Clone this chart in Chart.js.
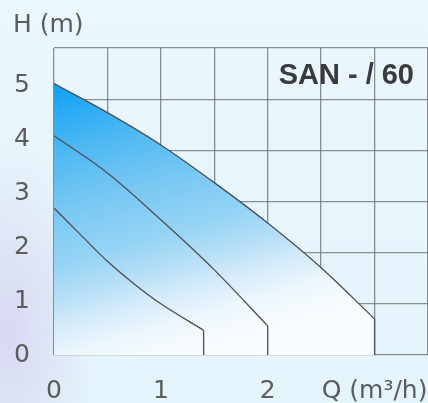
<!DOCTYPE html>
<html><head><meta charset="utf-8">
<script src="https://cdn.jsdelivr.net/npm/chart.js@4"></script>
<style>
html,body{margin:0;padding:0;}
body{width:428px;height:403px;overflow:hidden;background:
 radial-gradient(ellipse 90px 190px at 8px 330px, rgba(214,212,238,0.85), rgba(214,212,238,0) 100%),
 linear-gradient(180deg,#eaf7fc 0%, #e4f4fb 100%);}
canvas{display:block;}
</style></head><body>
<canvas id="c" width="428" height="403"></canvas>
<script>
const flowCurve1 = [0, 0.5, 1, 1.5, 2, 2.5, 3];
const headCurve1 = [5.04, 4.50, 3.90, 3.20, 2.45, 1.62, 0.67];
const flowCurve2 = [0, 0.5, 1, 1.5, 2];
const headCurve2 = [4.07, 3.38, 2.51, 1.58, 0.54];
const flowCurve3 = [0, 0.25, 0.5, 0.75, 1, 1.4];
const headCurve3 = [2.73, 2.23, 1.74, 1.32, 0.95, 0.46];
const xGridValues = [0, 0.5, 1, 1.5, 2, 2.5, 3, 3.5];
const xTickValues = [0, 1, 2, 3];
const xTickLabels = ['0', '1', '2', 'Q (m³/h)'];
const yTickValues = [0, 1, 2, 3, 4, 5];
const yTickLabels = ['0', '1', '2', '3', '4', '5'];
const yGridValues = [0, 1, 2, 3, 4, 5, 6];
const yAxisTitle = 'H (m)';
const modelLabel = 'SAN - / 60';

const toPoints = (qs, hs) => qs.map((q, i) => ({x: q, y: hs[i]}));
const dropLine = (qs, hs) => [{x: qs[qs.length - 1], y: hs[hs.length - 1]}, {x: qs[qs.length - 1], y: 0}];

const lineColor = '#4e4e52';
const gridColor = 'rgba(105,105,115,0.75)';
const tickColor = '#5c5c5c';

function fillGradient(context) {
  const chart = context.chart;
  const area = chart.chartArea;
  if (!area) return 'rgba(100,190,240,0.6)';
  const c = chart.ctx;
  const g = c.createLinearGradient(area.left, area.top + 36, area.left + 90, area.bottom + 36);
  g.addColorStop(0, 'rgb(15,160,245)');
  g.addColorStop(0.22, 'rgb(80,185,242)');
  g.addColorStop(0.385, 'rgb(120,200,243)');
  g.addColorStop(0.55, 'rgb(150,212,245)');
  g.addColorStop(0.65, 'rgb(182,223,246)');
  g.addColorStop(0.73, 'rgb(212,235,249)');
  g.addColorStop(0.82, 'rgb(236,246,252)');
  g.addColorStop(0.9, 'rgb(246,251,254)');
  g.addColorStop(1, 'rgb(250,253,255)');
  return g;
}

const modelLabelPlugin = {
  id: 'modelLabel',
  afterDraw(chart) {
    const {ctx, chartArea, scales} = chart;
    ctx.save();
    ctx.font = 'bold 29px "Liberation Sans"';
    ctx.fillStyle = '#3a3a3c';
    ctx.textAlign = 'right';
    ctx.textBaseline = 'middle';
    ctx.fillText(modelLabel, chartArea.right - 14, scales.y2.getPixelForValue(5.45));
    ctx.restore();
  }
};

const lineDs = (data, extra) => Object.assign({
  data, borderColor: lineColor, borderWidth: 1.3, pointRadius: 0,
  cubicInterpolationMode: 'monotone', fill: false, order: 0
}, extra || {});

new Chart(document.getElementById('c'), {
  type: 'line',
  data: {
    datasets: [
      lineDs(toPoints(flowCurve1, headCurve1), {fill: 'origin', backgroundColor: fillGradient, order: 5}),
      lineDs(toPoints(flowCurve2, headCurve2)),
      lineDs(toPoints(flowCurve3, headCurve3)),
      lineDs(dropLine(flowCurve1, headCurve1), {cubicInterpolationMode: 'default', tension: 0}),
      lineDs(dropLine(flowCurve2, headCurve2), {cubicInterpolationMode: 'default', tension: 0}),
      lineDs(dropLine(flowCurve3, headCurve3), {cubicInterpolationMode: 'default', tension: 0})
    ]
  },
  options: {
    responsive: false,
    animation: false,
    layout: {padding: {left: 13, top: 0, right: 0, bottom: 0}},
    plugins: {
      legend: {display: false},
      tooltip: {enabled: false},
      title: {
        display: true, text: yAxisTitle, align: 'start', color: tickColor,
        font: {family: 'DejaVu Sans', size: 25, weight: 'normal'},
        padding: {top: 10, bottom: 8}
      }
    },
    scales: {
      x: {
        type: 'linear', position: 'bottom', min: 0, max: 3.5, z: 1,
        afterBuildTicks: s => { s.ticks = xGridValues.map(v => ({value: v})); },
        afterFit: s => { s.height = 48; s.paddingRight = 0; s.paddingLeft = 0; },
        ticks: {
          autoSkip: false, maxRotation: 0, minRotation: 0, padding: 21, color: tickColor,
          font: {family: 'DejaVu Sans', size: 25},
          callback: v => { const i = xTickValues.indexOf(v); return i >= 0 ? xTickLabels[i] : ''; }
        },
        grid: {color: gridColor, lineWidth: 1.3, drawTicks: false},
        border: {display: false}
      },
      y: {
        type: 'linear', position: 'left', min: 0, max: 5.7,
        afterBuildTicks: s => { s.ticks = yTickValues.map(v => ({value: v})); },
        afterFit: s => { s.width = 41; },
        ticks: {
          padding: 24, color: tickColor, font: {family: 'DejaVu Sans', size: 25},
          callback: v => { const i = yTickValues.indexOf(v); return i >= 0 ? yTickLabels[i] : ''; }
        },
        grid: {display: false, drawTicks: false},
        border: {display: false}
      },
      y2: {
        type: 'linear', position: 'left', min: 0, max: 6, z: 1,
        afterBuildTicks: s => { s.ticks = yGridValues.map(v => ({value: v})); },
        afterFit: s => { s.width = 0; },
        ticks: {display: false},
        grid: {color: gridColor, lineWidth: 1.3, drawTicks: false},
        border: {display: false}
      }
    }
  },
  plugins: [modelLabelPlugin]
});
</script>
</body></html>
